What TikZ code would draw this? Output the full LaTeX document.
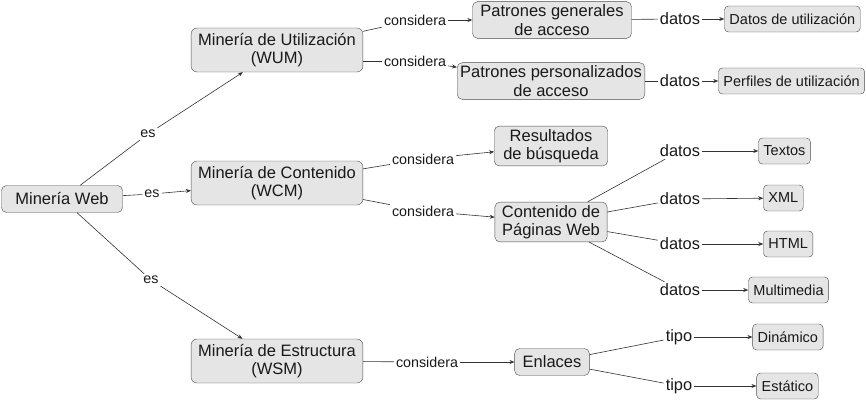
\documentclass[tikz,border=0pt]{standalone}
\usepackage{fontspec}
\setmainfont{Liberation Sans}
\usetikzlibrary{arrows.meta, positioning}

\begin{document}
\begin{tikzpicture}[
    x=1pt, y=-1pt,
    concept/.style={rectangle, draw=black!70, rounded corners=5pt, fill=black!10,
                text=black!90, align=center, inner xsep=7pt, inner ysep=3pt,
                font=\fontsize{16.5}{18.5}\selectfont},
    mainbox/.style={concept, minimum width=171pt, minimum height=44pt,
                rounded corners=6pt},
    leaf/.style={concept, rounded corners=4pt, minimum height=26pt,
                inner xsep=5pt, font=\fontsize{14.5}{16}\selectfont},
    linkword/.style={text=black!90, inner sep=2pt,
                font=\fontsize{14.3}{16}\selectfont},
    dataword/.style={text=black!90, inner sep=2pt,
                font=\fontsize{16.4}{18}\selectfont},
    conn/.style={draw=black!80, line width=0.6pt},
    linkarrow/.style={conn, -{Stealth[length=5pt, width=4pt]}},
    node distance=20pt
]
\useasboundingbox (0,0) rectangle (866,401);

%% MINERIA WEB
\node[concept, minimum width=121pt, minimum height=27pt] (web) at (62,199) {Minería Web};

%% TIPUS
\node[mainbox] (wum) at (277,50) {Minería de Utilización\\(WUM)};
\node[mainbox] (wcm) at (277,183) {Minería de Contenido\\(WCM)};
\node[mainbox] (wsm) at (277,361) {Minería de Estructura\\(WSM)};

\node[linkword] (es1) at (148,134) {es};
\node[linkword] (es2) at (152,194) {es};
\node[linkword] (es3) at (151,280) {es};

\draw[conn] (web) -- (es1);
\draw[linkarrow] (es1) -- (wum);
\draw[conn] (web) -- (es2);
\draw[linkarrow] (es2) -- (wcm);
\draw[conn] (web) -- (es3);
\draw[linkarrow] (es3) -- (wsm);

%% UTILIZACION
\node[concept, minimum width=159pt] (pgen) at (552,20) {Patrones generales\\de acceso};
\node[concept, inner xsep=3pt] (ppers) at (551,81) {Patrones personalizados\\de acceso};

\node[linkword] (c1) at (415,20) {considera};
\node[linkword] (c2) at (415,61) {considera};

\draw[conn] (wum) -- (c1);
\draw[linkarrow] (c1) -- (pgen);
\draw[conn] (wum.east |- c2) -- (c2);
\draw[linkarrow] (c2) -- (ppers);

\node[dataword] (d1) at (680,19) {datos};
\node[dataword] (d2) at (680,81) {datos};
\node[leaf, right=22pt of d1] (dutil) {Datos de utilización};
\node[leaf, right=16pt of d2] (putil) {Perfiles de utilización};

\draw[conn] (pgen) -- (d1);
\draw[linkarrow] (d1) -- (dutil);
\draw[conn] (ppers) -- (d2);
\draw[linkarrow] (d2) -- (putil);

%% CONTENIDO
\node[concept, inner xsep=9pt] (res) at (551,146) {Resultados\\de búsqueda};
\node[concept] (cont) at (551,222) {Contenido de\\Páginas Web};

\node[linkword] (c3) at (423,159) {considera};
\node[linkword] (c4) at (423,211) {considera};

\draw[conn] (wcm) -- (c3);
\draw[linkarrow] (c3) -- (res);
\draw[conn] (wcm) -- (c4);
\draw[linkarrow] (c4) -- (cont);

\node[dataword] (d3) at (680,151) {datos};
\node[dataword] (d4) at (680,199) {datos};
\node[dataword] (d5) at (680,244) {datos};
\node[dataword] (d6) at (680,290) {datos};
\node[leaf, right=56pt of d3] (textos) {Textos};
\node[leaf, right=61pt of d4, yshift=1pt] (xml) {XML};
\node[leaf, right=61pt of d5] (html) {HTML};
\node[leaf, right=46pt of d6] (multi) {Multimedia};

\foreach \d/\t in {d3/textos, d4/xml, d5/html, d6/multi} {
    \draw[conn] (cont) -- (\d);
    \draw[linkarrow] (\d) -- (\t);
}

%% ESTRUCTURA
\node[concept, inner xsep=8pt, minimum height=27pt] (enl) at (552,362) {Enlaces};
\node[linkword] (c5) at (427,362) {considera};

\draw[conn] (wsm) -- (c5);
\draw[linkarrow] (c5) -- (enl);

\node[dataword] (t1) at (679,337) {tipo};
\node[dataword] (t2) at (679,386) {tipo};
\node[leaf, right=58pt of t1] (din) {Dinámico};
\node[leaf, right=62pt of t2] (est) {Estático};

\draw[conn] (enl) -- (t1);
\draw[linkarrow] (t1) -- (din);
\draw[conn] (enl) -- (t2);
\draw[linkarrow] (t2) -- (est);

\end{tikzpicture}
\end{document}
